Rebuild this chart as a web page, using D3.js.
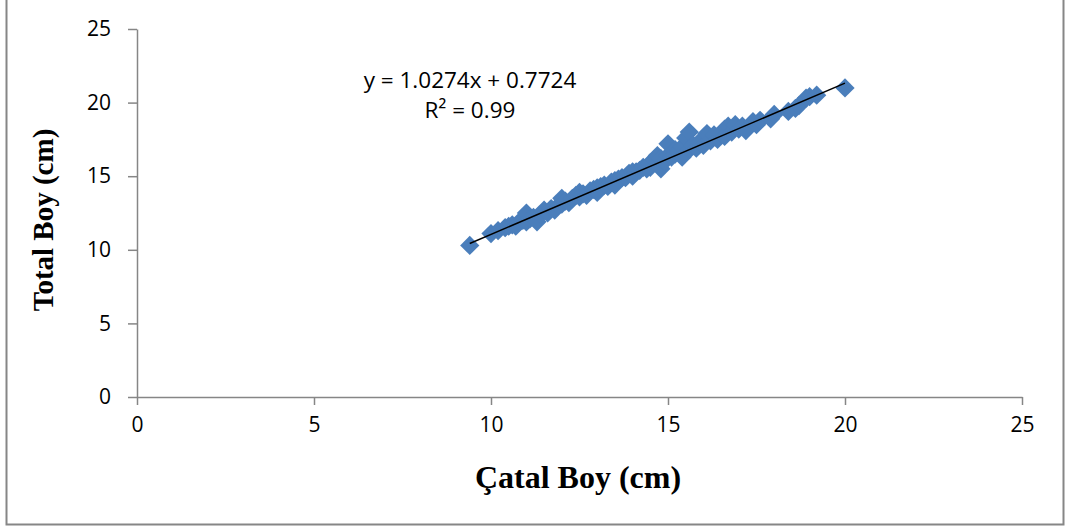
<!DOCTYPE html>
<html>
<head>
<meta charset="utf-8">
<script src="https://cdn.jsdelivr.net/npm/d3@7"></script>
<style>
  html, body { margin: 0; padding: 0; background: #fff; }
  svg { display: block; }
</style>
</head>
<body>
<svg id="chart" width="1066" height="529"></svg>
<script>
// Fork length (Çatal Boy) vs. total length (Total Boy), cm
const catalBoy = [
  9.4, 10.0, 10.2, 10.4, 10.5, 10.6, 10.7, 10.8, 10.9, 11.0,
  11.0, 11.1, 11.2, 11.3, 11.4, 11.5, 11.6, 11.7, 11.8, 11.9,
  12.0, 12.0, 12.1, 12.2, 12.3, 12.4, 12.5, 12.5, 12.6, 12.7,
  12.8, 12.9, 13.0, 13.0, 13.1, 13.2, 13.3, 13.4, 13.5, 13.5,
  13.6, 13.7, 13.8, 13.9, 14.0, 14.0, 14.1, 14.2, 14.3, 14.4,
  14.5, 14.5, 14.6, 14.7, 14.8, 14.8, 14.9, 15.0, 15.0, 15.1,
  15.2, 15.2, 15.3, 15.4, 15.4, 15.5, 15.6, 15.6, 15.7, 15.8,
  15.9, 16.0, 16.0, 16.1, 16.2, 16.3, 16.4, 16.5, 16.6, 16.6,
  16.7, 16.8, 16.9, 17.0, 17.1, 17.2, 17.4, 17.5, 17.6, 17.9,
  18.0, 18.4, 18.6, 18.7, 18.9, 19.0, 19.2, 20.0
];
const totalBoy = [
  10.3, 11.1, 11.3, 11.5, 11.6, 11.7, 11.6, 11.9, 12.0, 12.5,
  11.9, 12.1, 12.2, 11.9, 12.4, 12.7, 12.5, 12.8, 12.7, 13.0,
  13.1, 13.5, 13.3, 13.2, 13.5, 13.7, 13.6, 13.9, 13.8, 13.7,
  14.0, 14.1, 14.2, 13.9, 14.3, 14.4, 14.3, 14.6, 14.7, 14.4,
  14.8, 14.9, 14.9, 15.2, 15.3, 15.0, 15.3, 15.4, 15.6, 15.5,
  15.9, 15.6, 16.1, 16.4, 15.5, 16.2, 16.0, 17.2, 16.4, 16.3,
  16.8, 16.5, 16.6, 17.0, 16.3, 17.6, 18.0, 16.8, 17.1, 16.9,
  17.3, 17.6, 17.1, 17.9, 17.4, 17.8, 17.5, 17.9, 18.2, 17.7,
  18.4, 18.0, 18.5, 18.2, 18.4, 18.1, 18.7, 18.5, 18.8, 18.9,
  19.2, 19.4, 19.6, 19.8, 20.3, 20.4, 20.5, 21.0
];
const xTicks = [0, 5, 10, 15, 20, 25];
const yTicks = [0, 5, 10, 15, 20, 25];
const slope = 1.0274;
const intercept = 0.7724;
const r2Label = "0.99";

const svg = d3.select("#chart");
const axisColor = "#868686";

// chart frame
svg.append("path")
  .attr("d", "M6.5,-2 V524.5 H1063.5 V-2")
  .attr("fill", "none")
  .attr("stroke", axisColor)
  .attr("stroke-width", 2);

const x = d3.scaleLinear().domain([0, 25]).range([137, 1022]);
const y = d3.scaleLinear().domain([0, 25]).range([397, 29]);

const tickFont = "'Open Sans', 'Noto Sans', sans-serif";

// y axis
const yAxis = svg.append("g")
  .attr("transform", `translate(${x(0)},0)`)
  .call(d3.axisLeft(y).tickValues(yTicks).tickSize(9).tickPadding(17).tickSizeOuter(0));
// x axis
const xAxis = svg.append("g")
  .attr("transform", `translate(0,${y(0)})`)
  .call(d3.axisBottom(x).tickValues(xTicks).tickSize(8).tickPadding(12).tickSizeOuter(0));

[xAxis, yAxis].forEach(g => {
  g.selectAll("path.domain").attr("stroke", axisColor).attr("stroke-width", 1.5);
  g.selectAll(".tick line").attr("stroke", axisColor).attr("stroke-width", 1.5);
  g.selectAll(".tick text")
    .attr("fill", "#000")
    .style("font-family", tickFont)
    .style("font-size", "21px");
});

// points (square markers turned 45°)
const diamond = d3.symbol().type(d3.symbolSquare).size(185);
const points = catalBoy.map((v, i) => [v, totalBoy[i]]);
svg.append("g").selectAll("path")
  .data(points)
  .join("path")
  .attr("d", diamond)
  .attr("transform", d => `translate(${x(d[0])},${y(d[1])}) rotate(45)`)
  .attr("fill", "#4a7ebb");

// linear trend line over the data range
const xMin = d3.min(catalBoy), xMax = d3.max(catalBoy);
svg.append("line")
  .attr("x1", x(xMin)).attr("y1", y(slope * xMin + intercept))
  .attr("x2", x(xMax)).attr("y2", y(slope * xMax + intercept))
  .attr("stroke", "#000")
  .attr("stroke-width", 1.5);

// trend equation
const eq = svg.append("text")
  .attr("text-anchor", "middle")
  .style("font-family", tickFont).style("font-size", "22.5px")
  .attr("fill", "#000");
eq.append("tspan").attr("x", 470).attr("y", 88)
  .text(`y = ${slope}x + ${intercept}`);
eq.append("tspan").attr("x", 470).attr("y", 118)
  .text(`R² = ${r2Label}`);

// axis titles
const titleFont = "'Liberation Serif', 'Times New Roman', serif";
svg.append("text")
  .attr("x", 578).attr("y", 488)
  .attr("text-anchor", "middle")
  .style("font-family", titleFont).style("font-size", "32px").style("font-weight", "bold")
  .text("Çatal Boy (cm)");
svg.append("text")
  .attr("transform", "translate(53,220) rotate(-90)")
  .attr("text-anchor", "middle")
  .style("font-family", titleFont).style("font-size", "29px").style("font-weight", "bold")
  .text("Total Boy (cm)");
</script>
</body>
</html>
